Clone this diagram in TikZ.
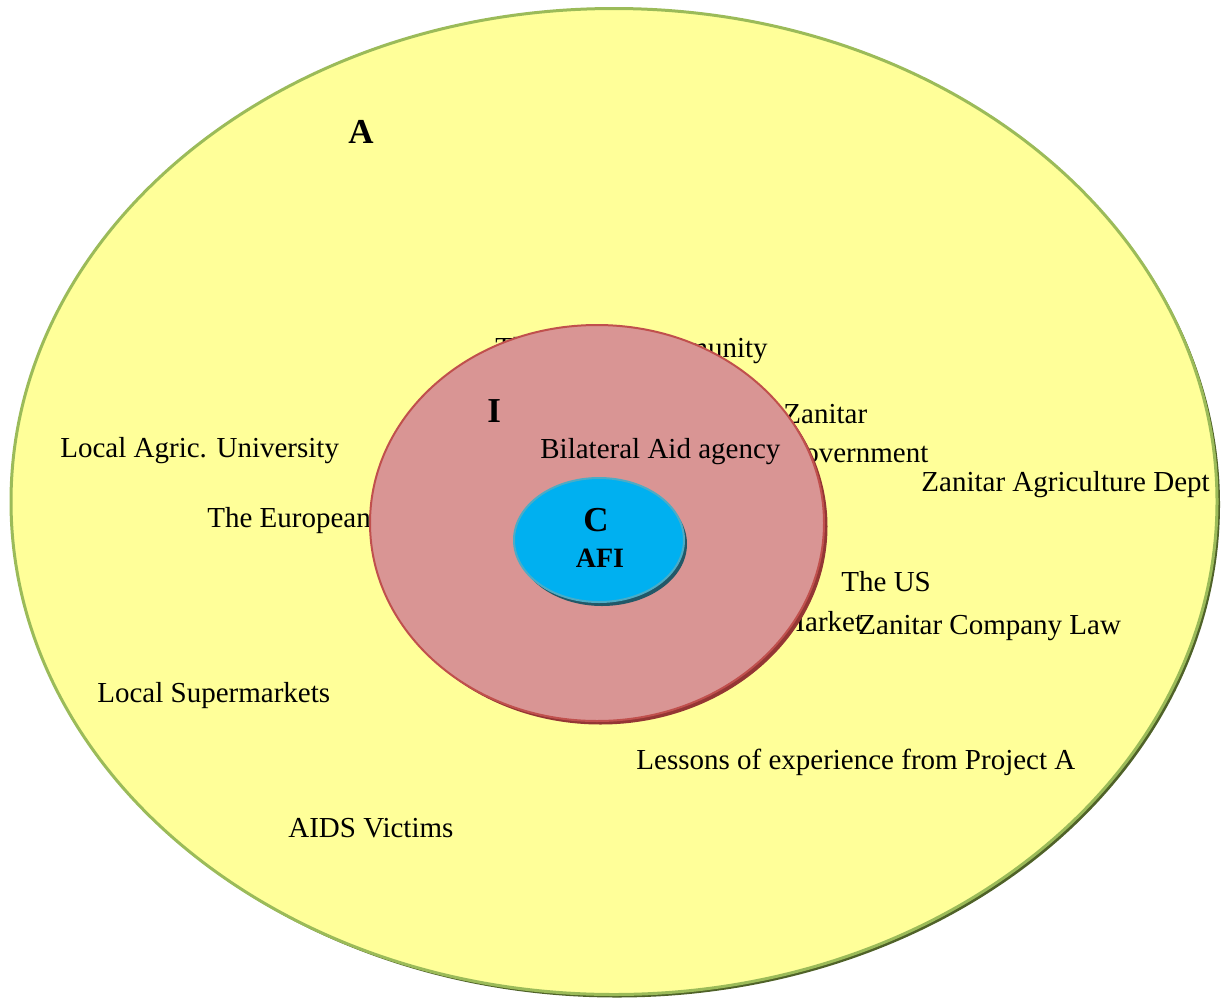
\documentclass[tikz,border=0pt]{standalone}
\usepackage{fontspec}
\setmainfont{Liberation Serif}
\definecolor{yfill}{HTML}{FFFF99}
\definecolor{yline}{HTML}{9BBB59}
\definecolor{yshadow}{HTML}{4F6228}
\definecolor{pfill}{HTML}{D99594}
\definecolor{pline}{HTML}{C0504D}
\definecolor{pshadow}{HTML}{943634}
\definecolor{bfill}{HTML}{00B0F0}
\definecolor{bline}{HTML}{4BACC6}
\definecolor{bshadow}{HTML}{215868}
\tikzset{
  lbl/.style={anchor=base west, inner sep=0pt, font=\fontsize{14.5pt}{17pt}\selectfont},
  big/.style={anchor=base west, inner sep=0pt, font=\fontsize{17.5pt}{20pt}\selectfont\bfseries},
}
\begin{document}
\begin{tikzpicture}[x=0.5pt,y=-0.5pt]
\useasboundingbox (0,0) rectangle (1221,997);
% outer ring A
\fill[yshadow] (617,504.5) ellipse [x radius=603, y radius=493];
\draw[yline, line width=1.5pt, fill=yfill] (614,501.5) ellipse [x radius=603, y radius=493];
\node[big] (A) at (348,143) {A};
% texts partly hidden by the middle ring
\node[lbl] (donor) at (495,357) {The Donor Community};
\node[lbl] (gov1) at (783,423) {Zanitar};
\node[lbl] (gov2) at (783,462) {Government};
\node[lbl] (eu) at (207,527) {The European};
\node[lbl] (market) at (779,631) {Market};
% middle ring I
\fill[pshadow] (600.5,526.5) ellipse [x radius=227, y radius=198];
\draw[pline, line width=1pt, fill=pfill] (597,523) ellipse [x radius=227, y radius=198];
\node[big] (I) at (487,422) {I};
\node[lbl] (bil) at (540,458) {Bilateral Aid agency};
% core C
\fill[bshadow] (602,544) ellipse [x radius=85, y radius=62];
\draw[bline, line width=1pt, fill=bfill] (599,540) ellipse [x radius=85, y radius=62];
\node[big] (C) at (583,531) {C};
\node[anchor=base, inner sep=0pt, font=\fontsize{14pt}{16pt}\selectfont\bfseries] (afi) at (600,567) {AFI};
% outer texts
\node[lbl] (uni) at (60,457) {Local Agric. University};
\node[lbl] (agri) at (921,491) {Zanitar Agriculture Dept};
\node[lbl] (us) at (841,591) {The US};
\node[lbl] (law) at (858,634) {Zanitar Company Law};
\node[lbl] (super) at (97,702) {Local Supermarkets};
\node[lbl] (lessons) at (636,769) {Lessons of experience from Project A};
\node[lbl] (aids) at (288,837) {AIDS Victims};
\end{tikzpicture}
\end{document}
